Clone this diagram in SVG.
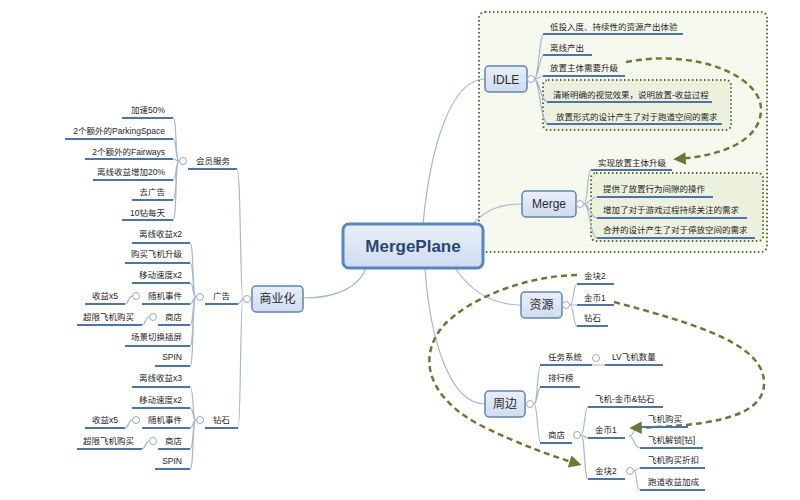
<svg xmlns="http://www.w3.org/2000/svg" width="800" height="500" viewBox="0 0 800 500">
<defs>
<linearGradient id="ng" x1="0" y1="0" x2="0" y2="1"><stop offset="0" stop-color="#e8eff8"/><stop offset="1" stop-color="#cfdcee"/></linearGradient>
<marker id="ah" viewBox="0 0 10 10" refX="7" refY="5" markerWidth="5.5" markerHeight="5" orient="auto"><path d="M0,0 L10,5 L0,10 z" fill="#6b7a33"/></marker>
<style>
.t{font-family:"Liberation Sans","Noto Sans CJK SC",sans-serif;font-size:8.5px;fill:#1e1e1e}
.e{text-anchor:end}
.ul{stroke:#4a74ad;stroke-width:2;fill:none}
.conn{fill:none;stroke:#a9b8cb;stroke-width:1.2}
.nb{fill:url(#ng);stroke:#6083b3;stroke-width:1.5}
.nt{font-family:"Liberation Sans","Noto Sans CJK SC",sans-serif;font-size:12px;fill:#2a2a2a;text-anchor:middle}
.cc{fill:#fff;stroke:#9aaac2;stroke-width:1}
.rel{fill:none;stroke:#6b7a33;stroke-width:2.5;stroke-dasharray:6,4}
.bnd{stroke:#5e6b38;stroke-width:2;stroke-dasharray:1.5,2.5}
</style>
</defs>
<rect width="800" height="500" fill="#fff"/>
<g id="boundaries">
<rect x="479" y="12" width="288" height="240" rx="6" fill="#f5f8ec" class="bnd"/>
<rect x="543" y="80" width="188" height="50" rx="5" fill="#ecf1de" class="bnd"/>
<rect x="591" y="173" width="172" height="68" rx="5" fill="#ecf1de" class="bnd"/>
</g>
<g id="connectors">
<path class="conn" d="M423,224 C430,150 450,79 485,79"/>
<path class="conn" d="M473,224 C485,210 500,204 522,204"/>
<path class="conn" d="M455,268 C470,290 490,305 521,305"/>
<path class="conn" d="M425,268 C430,340 450,404 485,404"/>
<path class="conn" d="M303,298 C340,298 360,285 366,268"/>
<path class="conn" d="M534,79 C539,79 539,34 544,34 M534,79 C539,79 539,55 544,55 M534,79 C539,79 539,76 544,76 M534,79 C540,79 540,102 548,102 M534,79 C540,79 540,124 548,124"/>
<path class="conn" d="M584,204 C588,204 587,170 591,170 M584,204 C590,204 590,197 597,197 M584,204 C590,204 590,218 597,218 M584,204 C590,204 590,238 597,238"/>
<path class="conn" d="M570,305 C574,305 573,284 577,284 M570,305 L577,305 M570,305 C574,305 573,326 577,326"/>
<path class="conn" d="M534,404 C538,404 537,365 541,365 M534,404 C538,404 537,387 541,387 M534,404 C538,404 537,443 541,443 M592,365 L605,365"/>
<path class="conn" d="M581,435 C585,435 584,407 588,407 M581,435 C585,435 584,438 588,438 M581,435 C585,435 584,479 588,479"/>
<path class="conn" d="M629,436 C634,436 634,427 640,427 M629,436 C634,436 634,448 640,448"/>
<path class="conn" d="M634,471 C637,471 636,468 640,468 M634,471 C637,471 636,490 640,490"/>
<path class="conn" d="M243,299 C240,299 241,169 237,169 M243,299 C240,299 241,304 238,304 M243,299 C240,299 241,428 238,428"/>
<path class="conn" d="M179,161 C175,161 177,118 173,118 M179,161 C175,161 177,139 173,139 M179,161 C175,161 177,159 173,159 M179,161 C175,161 177,180 173,180 M179,161 C175,161 177,200 173,200 M179,161 C175,161 177,220 173,220"/>
<path class="conn" d="M196,297 C192,297 194,243 190,243 M196,297 C192,297 194,263 190,263 M196,297 C192,297 194,283 190,283 M196,297 C192,297 194,304 190,304 M196,297 C192,297 194,325 190,325 M196,297 C192,297 194,346 190,346 M196,297 C192,297 194,366 190,366"/>
<path class="conn" d="M196,420 C192,420 194,387 190,387 M196,420 C192,420 194,408 190,408 M196,420 C192,420 194,428 190,428 M196,420 C192,420 194,449 190,449 M196,420 C192,420 194,469 190,469"/>
<path class="conn" d="M132,296 C128,296 129,304 125,304 M149,317 C145,317 146,325 142,325 M132,420 C128,420 129,428 125,428 M149,441 C145,441 146,449 142,449"/>
</g>
<g id="relations">
<path class="rel" d="M626,62 C700,48 762,78 761,110 C760,142 720,156 677,159" marker-end="url(#ah)"/>
<path class="rel" d="M614,302 C700,325 766,345 764,385 C762,420 700,426 633,428" marker-end="url(#ah)"/>
<path class="rel" d="M577,275 C525,276 470,298 444,325 C414,360 432,400 480,425 C520,445 555,457 578,464" marker-end="url(#ah)"/>
</g>
<g id="root">
<rect x="343" y="224" width="140" height="44" rx="6" fill="url(#ng)" stroke="#5585c5" stroke-width="3"/>
<text x="413" y="252" text-anchor="middle" font-family="Liberation Sans, sans-serif" font-size="17" font-weight="bold" fill="#2c4670">MergePlane</text>
</g>
<g id="idle"><rect class="nb" x="485" y="66" width="42" height="26" rx="4"/><text class="nt" x="506" y="83.5">IDLE</text><circle class="cc" cx="531" cy="79" r="3.5"/></g>
<g id="idle-1"><text class="t" x="550" y="30">低投入度、持续性的资源产出体验</text><line class="ul" x1="543" y1="34" x2="683" y2="34"/></g>
<g id="idle-2"><text class="t" x="550" y="51">离线产出</text><line class="ul" x1="543" y1="55" x2="592" y2="55"/></g>
<g id="idle-3"><text class="t" x="550" y="71">放置主体需要升级</text><line class="ul" x1="543" y1="76" x2="625" y2="76"/></g>
<g id="idle-4"><text class="t" x="553" y="98">清晰明确的视觉效果，说明放置-收益过程</text><line class="ul" x1="547" y1="102" x2="712" y2="102"/></g>
<g id="idle-5"><text class="t" x="556" y="120">放置形式的设计产生了对于跑道空间的需求</text><line class="ul" x1="547" y1="124" x2="722" y2="124"/></g>
<g id="merge"><rect class="nb" x="522" y="191" width="54" height="26" rx="4"/><text class="nt" x="549" y="208">Merge</text><circle class="cc" cx="580" cy="204" r="3.5"/></g>
<g id="merge-1"><text class="t" x="598" y="166">实现放置主体升级</text><line class="ul" x1="591" y1="170" x2="672" y2="170"/></g>
<g id="merge-2"><text class="t" x="603" y="192">提供了放置行为间隙的操作</text><line class="ul" x1="597" y1="197" x2="713" y2="197"/></g>
<g id="merge-3"><text class="t" x="603" y="213">增加了对于游戏过程持续关注的需求</text><line class="ul" x1="597" y1="218" x2="747" y2="218"/></g>
<g id="merge-4"><text class="t" x="603" y="233">合并的设计产生了对于停放空间的需求</text><line class="ul" x1="597" y1="238" x2="755" y2="238"/></g>
<g id="res"><rect class="nb" x="521" y="292" width="41" height="26" rx="4"/><text class="nt" x="541.5" y="309" font-size="11">资源</text><circle class="cc" cx="566" cy="305" r="3.5"/></g>
<g id="res-1"><text class="t" x="584" y="279">金块2</text><line class="ul" x1="577" y1="284" x2="614" y2="284"/></g>
<g id="res-2"><text class="t" x="584" y="301">金币1</text><line class="ul" x1="577" y1="305" x2="614" y2="305"/></g>
<g id="res-3"><text class="t" x="584" y="321">钻石</text><line class="ul" x1="577" y1="326" x2="608" y2="326"/></g>
<g id="peri"><rect class="nb" x="485" y="391" width="40" height="26" rx="4"/><text class="nt" x="505" y="408" font-size="11">周边</text><circle class="cc" cx="530" cy="404" r="3.5"/></g>
<g id="peri-1"><text class="t" x="548" y="360">任务系统</text><line class="ul" x1="540" y1="365" x2="592" y2="365"/><circle class="cc" cx="596" cy="358" r="3.5"/></g>
<g id="peri-1-1"><text class="t" x="612" y="360">LV飞机数量</text><line class="ul" x1="605" y1="365" x2="663" y2="365"/></g>
<g id="peri-2"><text class="t" x="548" y="381">排行榜</text><line class="ul" x1="540" y1="387" x2="580" y2="387"/></g>
<g id="peri-3"><text class="t" x="548" y="438">商店</text><line class="ul" x1="540" y1="443" x2="572" y2="443"/><circle class="cc" cx="577" cy="435" r="3.5"/></g>
<g id="shop-1"><text class="t" x="595" y="402">飞机-金币&amp;钻石</text><line class="ul" x1="588" y1="407" x2="663" y2="407"/></g>
<g id="shop-2"><text class="t" x="595" y="433">金币1</text><line class="ul" x1="588" y1="438" x2="625" y2="438"/></g>
<g id="shop-2-1"><text class="t" x="648" y="422">飞机购买</text><line class="ul" x1="640" y1="427" x2="688" y2="427"/></g>
<g id="shop-2-2"><text class="t" x="648" y="443">飞机解锁[钻]</text><line class="ul" x1="640" y1="448" x2="703" y2="448"/></g>
<g id="shop-3"><text class="t" x="595" y="474">金块2</text><line class="ul" x1="588" y1="479" x2="625" y2="479"/><circle class="cc" cx="630" cy="471" r="3.5"/></g>
<g id="shop-3-1"><text class="t" x="648" y="463">飞机购买折扣</text><line class="ul" x1="640" y1="468" x2="705" y2="468"/></g>
<g id="shop-3-2"><text class="t" x="648" y="485">跑道收益加成</text><line class="ul" x1="640" y1="490" x2="705" y2="490"/></g>
<g id="biz"><rect class="nb" x="252" y="286" width="51" height="26" rx="4"/><text class="nt" x="277.5" y="303" font-size="11">商业化</text><circle class="cc" cx="247" cy="299" r="3.5"/></g>
<g id="vip"><text class="t" x="196" y="164">会员服务</text><line class="ul" x1="188" y1="169" x2="237" y2="169"/><circle class="cc" cx="183" cy="161" r="3.5"/></g>
<g id="vip-1"><text class="t e" x="165" y="113">加速50%</text><line class="ul" x1="122" y1="118" x2="173" y2="118"/></g>
<g id="vip-2"><text class="t e" x="165" y="134">2个额外的ParkingSpace</text><line class="ul" x1="65" y1="139" x2="173" y2="139"/></g>
<g id="vip-3"><text class="t e" x="165" y="155">2个额外的Fairways</text><line class="ul" x1="85" y1="159" x2="173" y2="159"/></g>
<g id="vip-4"><text class="t e" x="165" y="175">离线收益增加20%</text><line class="ul" x1="93" y1="180" x2="173" y2="180"/></g>
<g id="vip-5"><text class="t e" x="165" y="195">去广告</text><line class="ul" x1="132" y1="200" x2="173" y2="200"/></g>
<g id="vip-6"><text class="t e" x="165" y="216">10钻每天</text><line class="ul" x1="122" y1="220" x2="173" y2="220"/></g>
<g id="ad"><text class="t" x="213" y="299">广告</text><line class="ul" x1="205" y1="304" x2="238" y2="304"/><circle class="cc" cx="200" cy="297" r="3.5"/></g>
<g id="ad-1"><text class="t e" x="182" y="237">离线收益x2</text><line class="ul" x1="132" y1="243" x2="190" y2="243"/></g>
<g id="ad-2"><text class="t e" x="182" y="257">购买飞机升级</text><line class="ul" x1="125" y1="263" x2="190" y2="263"/></g>
<g id="ad-3"><text class="t e" x="182" y="278">移动速度x2</text><line class="ul" x1="132" y1="283" x2="190" y2="283"/></g>
<g id="ad-4"><text class="t e" x="182" y="299">随机事件</text><line class="ul" x1="142" y1="304" x2="190" y2="304"/><circle class="cc" cx="136" cy="296" r="3.5"/></g>
<g id="ad-4-1"><text class="t e" x="118" y="299">收益x5</text><line class="ul" x1="85" y1="304" x2="125" y2="304"/></g>
<g id="ad-5"><text class="t e" x="182" y="320">商店</text><line class="ul" x1="158" y1="325" x2="190" y2="325"/><circle class="cc" cx="153" cy="317" r="3.5"/></g>
<g id="ad-5-1"><text class="t e" x="134" y="320">超限飞机购买</text><line class="ul" x1="77" y1="325" x2="142" y2="325"/></g>
<g id="ad-6"><text class="t e" x="182" y="340">场景切换插屏</text><line class="ul" x1="125" y1="346" x2="190" y2="346"/></g>
<g id="ad-7"><text class="t e" x="182" y="360">SPIN</text><line class="ul" x1="155" y1="366" x2="190" y2="366"/></g>
<g id="dia"><text class="t" x="213" y="423">钻石</text><line class="ul" x1="205" y1="428" x2="238" y2="428"/><circle class="cc" cx="200" cy="420" r="3.5"/></g>
<g id="dia-1"><text class="t e" x="182" y="381">离线收益x3</text><line class="ul" x1="132" y1="387" x2="190" y2="387"/></g>
<g id="dia-2"><text class="t e" x="182" y="403">移动速度x2</text><line class="ul" x1="132" y1="408" x2="190" y2="408"/></g>
<g id="dia-3"><text class="t e" x="182" y="423">随机事件</text><line class="ul" x1="142" y1="428" x2="190" y2="428"/><circle class="cc" cx="136" cy="420" r="3.5"/></g>
<g id="dia-3-1"><text class="t e" x="118" y="423">收益x5</text><line class="ul" x1="85" y1="428" x2="125" y2="428"/></g>
<g id="dia-4"><text class="t e" x="182" y="444">商店</text><line class="ul" x1="158" y1="449" x2="190" y2="449"/><circle class="cc" cx="153" cy="441" r="3.5"/></g>
<g id="dia-4-1"><text class="t e" x="134" y="444">超限飞机购买</text><line class="ul" x1="77" y1="449" x2="142" y2="449"/></g>
<g id="dia-5"><text class="t e" x="182" y="464">SPIN</text><line class="ul" x1="155" y1="469" x2="190" y2="469"/></g>
</svg>
